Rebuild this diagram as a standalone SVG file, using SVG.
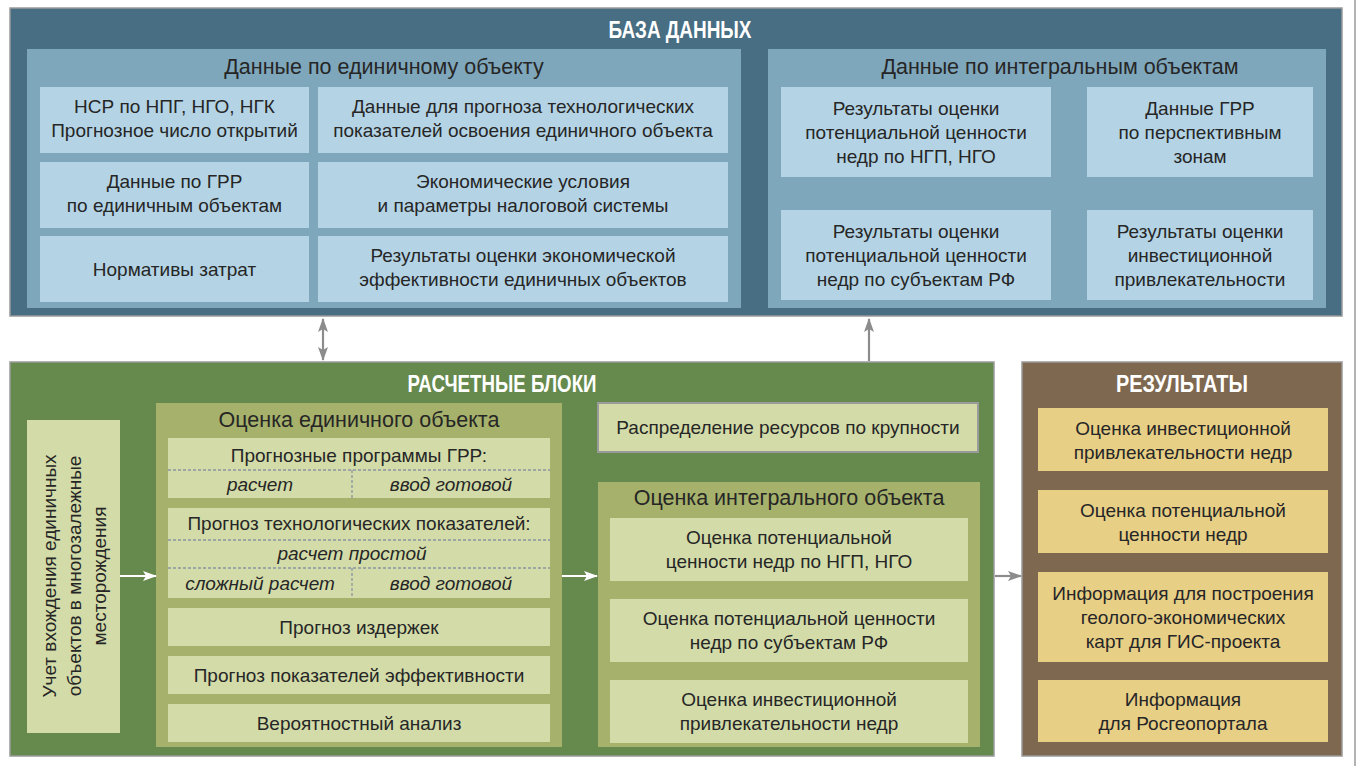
<svg xmlns="http://www.w3.org/2000/svg" width="1359" height="766" viewBox="0 0 1359 766">
<style>
text{font-family:"Liberation Sans",Arial,sans-serif;fill:#262626}
.t{font-size:19px;text-anchor:middle}
.i{font-size:19px;text-anchor:middle;font-style:italic}
.h{font-size:21.5px;text-anchor:middle}
.b{font-size:24px;font-weight:bold;text-anchor:middle;fill:#fff}
.outer{stroke:#9a9a9a;stroke-width:1.5}
.dbo{fill:#476e83}.dbp{fill:#7fa7bc}.dbc{fill:#b4d4e5}
.go{fill:#668a4d}.gp{fill:#a6b26b}.gc{fill:#d3dca9}
.bo{fill:#7e6850}.bc{fill:#e8cf86}
.dash{stroke:#8a94a0;stroke-width:1.3;stroke-dasharray:3 2;fill:none}
.ga{stroke:#8c8c8c;stroke-width:2.2;fill:none}
.wa{stroke:#fff;stroke-width:2.2;fill:none}
</style>
<defs>
<marker id="ag" viewBox="0 0 14 10" refX="13" refY="5" markerWidth="14" markerHeight="10" markerUnits="userSpaceOnUse" orient="auto-start-reverse"><path d="M0,0 L14,5 L0,10 L3,5 Z" fill="#8c8c8c"/></marker>
<marker id="aw" viewBox="0 0 14 10" refX="13" refY="5" markerWidth="14" markerHeight="10" markerUnits="userSpaceOnUse" orient="auto"><path d="M0,0 L14,5 L0,10 L3,5 Z" fill="#fff"/></marker>
</defs>
<rect width="1359" height="766" fill="#fff"/>
<line x1="1355" y1="0" x2="1355" y2="766" stroke="#9a9a9a" stroke-width="1.5"/>

<g id="db">
<rect class="dbo outer" x="10" y="8" width="1332" height="308"/>
<text class="b" x="680" y="38" textLength="143" lengthAdjust="spacingAndGlyphs">БАЗА ДАННЫХ</text>
</g>
<g id="db-single">
<rect class="dbp" x="27" y="49" width="714" height="259"/>
<text class="h" x="384" y="74">Данные по единичному объекту</text>
</g>
<g id="db-s1"><rect class="dbc" x="40" y="87" width="269" height="66"/><text class="t" x="174.5" y="113">НСР по НПГ, НГО, НГК</text><text class="t" x="174.5" y="137">Прогнозное число открытий</text></g>
<g id="db-s2"><rect class="dbc" x="318" y="87" width="410" height="66"/><text class="t" x="523" y="113">Данные для прогноза технологических</text><text class="t" x="523" y="137">показателей освоения единичного объекта</text></g>
<g id="db-s3"><rect class="dbc" x="40" y="162" width="269" height="66"/><text class="t" x="174.5" y="188">Данные по ГРР</text><text class="t" x="174.5" y="212">по единичным объектам</text></g>
<g id="db-s4"><rect class="dbc" x="318" y="162" width="410" height="66"/><text class="t" x="523" y="188">Экономические условия</text><text class="t" x="523" y="212">и параметры налоговой системы</text></g>
<g id="db-s5"><rect class="dbc" x="40" y="236" width="269" height="66"/><text class="t" x="174.5" y="276">Нормативы затрат</text></g>
<g id="db-s6"><rect class="dbc" x="318" y="236" width="410" height="66"/><text class="t" x="523" y="262">Результаты оценки экономической</text><text class="t" x="523" y="286">эффективности единичных объектов</text></g>

<g id="db-integral">
<rect class="dbp" x="768" y="49" width="558" height="259"/>
<text class="h" x="1060" y="74">Данные по интегральным объектам</text>
</g>
<g id="db-i1"><rect class="dbc" x="781" y="87" width="270" height="90"/><text class="t" x="916" y="115">Результаты оценки</text><text class="t" x="916" y="139">потенциальной ценности</text><text class="t" x="916" y="163">недр по НГП, НГО</text></g>
<g id="db-i2"><rect class="dbc" x="1087" y="87" width="226" height="90"/><text class="t" x="1200" y="115">Данные ГРР</text><text class="t" x="1200" y="139">по перспективным</text><text class="t" x="1200" y="163">зонам</text></g>
<g id="db-i3"><rect class="dbc" x="781" y="210" width="270" height="90"/><text class="t" x="916" y="238">Результаты оценки</text><text class="t" x="916" y="262">потенциальной ценности</text><text class="t" x="916" y="286">недр по субъектам РФ</text></g>
<g id="db-i4"><rect class="dbc" x="1087" y="210" width="226" height="90"/><text class="t" x="1200" y="238">Результаты оценки</text><text class="t" x="1200" y="262">инвестиционной</text><text class="t" x="1200" y="286">привлекательности</text></g>

<g id="calc">
<rect class="go outer" x="10" y="362" width="984" height="394"/>
<text class="b" x="502" y="392" textLength="189" lengthAdjust="spacingAndGlyphs">РАСЧЕТНЫЕ БЛОКИ</text>
</g>
<g id="calc-multi">
<rect class="gc" x="27" y="420" width="93" height="313"/>
<text class="t" transform="rotate(-90 73 576)"><tspan x="73" y="559">Учет вхождения единичных</tspan><tspan x="73" y="584">объектов в многозалежные</tspan><tspan x="73" y="609">месторождения</tspan></text>
</g>
<g id="calc-single">
<rect class="gp" x="156" y="403" width="406" height="344"/>
<text class="h" x="359" y="427">Оценка единичного объекта</text>
</g>
<g id="cs-grr">
<rect class="gc" x="168" y="438" width="382" height="60"/>
<text class="t" x="359" y="462">Прогнозные программы ГРР:</text>
<line class="dash" x1="168" y1="470" x2="550" y2="470"/>
<line class="dash" x1="352" y1="470" x2="352" y2="498"/>
<text class="i" x="260" y="491">расчет</text>
<text class="i" x="451" y="491">ввод готовой</text>
</g>
<g id="cs-tech">
<rect class="gc" x="168" y="508" width="382" height="90"/>
<text class="t" x="359" y="530">Прогноз технологических показателей:</text>
<line class="dash" x1="168" y1="540" x2="550" y2="540"/>
<text class="i" x="352" y="560">расчет простой</text>
<line class="dash" x1="168" y1="568" x2="550" y2="568"/>
<line class="dash" x1="352" y1="568" x2="352" y2="598"/>
<text class="i" x="260" y="590">сложный расчет</text>
<text class="i" x="451" y="590">ввод готовой</text>
</g>
<g id="cs-cost"><rect class="gc" x="168" y="608" width="382" height="38"/><text class="t" x="359" y="634">Прогноз издержек</text></g>
<g id="cs-eff"><rect class="gc" x="168" y="656" width="382" height="38"/><text class="t" x="359" y="682">Прогноз показателей эффективности</text></g>
<g id="cs-prob"><rect class="gc" x="168" y="704" width="382" height="38"/><text class="t" x="359" y="730">Вероятностный анализ</text></g>

<g id="calc-distr"><rect class="gc" x="598" y="403" width="380" height="49" stroke="#9a9a9a" stroke-width="2"/><text class="t" x="788" y="434">Распределение ресурсов по крупности</text></g>
<g id="calc-integral">
<rect class="gp" x="598" y="482" width="382" height="265"/>
<text class="h" x="789" y="505">Оценка интегрального объекта</text>
</g>
<g id="ci-1"><rect class="gc" x="610" y="518" width="358" height="63"/><text class="t" x="789" y="544">Оценка потенциальной</text><text class="t" x="789" y="568">ценности недр по НГП, НГО</text></g>
<g id="ci-2"><rect class="gc" x="610" y="599" width="358" height="63"/><text class="t" x="789" y="625">Оценка потенциальной ценности</text><text class="t" x="789" y="649">недр по субъектам РФ</text></g>
<g id="ci-3"><rect class="gc" x="610" y="680" width="358" height="63"/><text class="t" x="789" y="706">Оценка инвестиционной</text><text class="t" x="789" y="730">привлекательности недр</text></g>

<g id="results">
<rect class="bo outer" x="1022" y="362" width="320" height="394"/>
<text class="b" x="1182" y="392" textLength="132" lengthAdjust="spacingAndGlyphs">РЕЗУЛЬТАТЫ</text>
</g>
<g id="r-1"><rect class="bc" x="1038" y="408" width="290" height="63"/><text class="t" x="1183" y="435">Оценка инвестиционной</text><text class="t" x="1183" y="459">привлекательности недр</text></g>
<g id="r-2"><rect class="bc" x="1038" y="490" width="290" height="63"/><text class="t" x="1183" y="517">Оценка потенциальной</text><text class="t" x="1183" y="541">ценности недр</text></g>
<g id="r-3"><rect class="bc" x="1038" y="572" width="290" height="90"/><text class="t" x="1183" y="600">Информация для построения</text><text class="t" x="1183" y="624">геолого-экономических</text><text class="t" x="1183" y="648">карт для ГИС-проекта</text></g>
<g id="r-4"><rect class="bc" x="1038" y="680" width="290" height="62"/><text class="t" x="1183" y="706">Информация</text><text class="t" x="1183" y="730">для Росгеопортала</text></g>

<g id="connectors">
<line class="ga" x1="323" y1="319" x2="323" y2="360" marker-start="url(#ag)" marker-end="url(#ag)"/>
<line class="ga" x1="869" y1="361" x2="869" y2="319" marker-end="url(#ag)"/>
<line class="wa" x1="120" y1="576" x2="156" y2="576" marker-end="url(#aw)"/>
<line class="wa" x1="562" y1="576" x2="597" y2="576" marker-end="url(#aw)"/>
<line class="ga" x1="995" y1="576" x2="1021" y2="576" marker-end="url(#ag)"/>
</g>
</svg>
